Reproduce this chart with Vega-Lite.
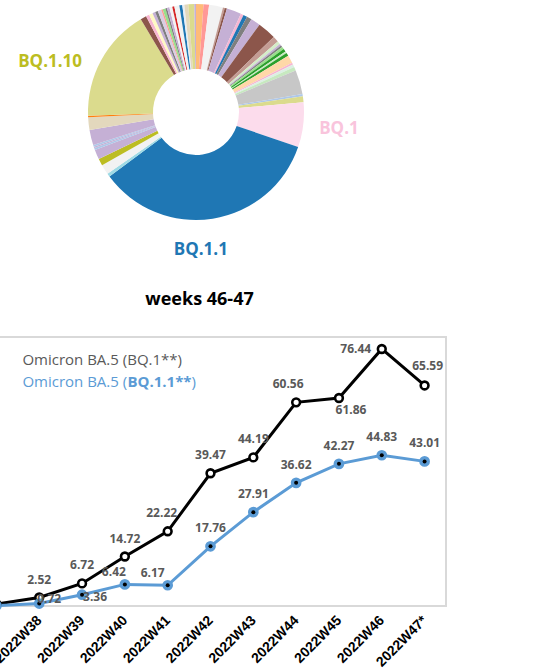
{
  "$schema": "https://vega.github.io/schema/vega-lite/v6.json",
  "padding": {"left": -26, "top": -41, "right": 0, "bottom": 0},
  "spacing": 8,
  "background": "white",
  "resolve": {"scale": {"color": "independent"}},
  "config": {"view": {"stroke": null}, "font": "Open Sans"},
  "vconcat": [
    {
      "width": 442,
      "height": 234,
      "view": {"stroke": null},
      "data": {"values": [
        {"n": 1, "lineage": "other-01", "share": 1.11},
        {"n": 2, "lineage": "other-02", "share": 0.83},
        {"n": 3, "lineage": "other-03", "share": 2.08},
        {"n": 4, "lineage": "other-04", "share": 0.28},
        {"n": 5, "lineage": "other-05", "share": 0.33},
        {"n": 6, "lineage": "other-06", "share": 2.19},
        {"n": 7, "lineage": "other-07", "share": 0.44},
        {"n": 8, "lineage": "other-08", "share": 0.58},
        {"n": 9, "lineage": "other-09", "share": 0.75},
        {"n": 10, "lineage": "other-10", "share": 1.42},
        {"n": 11, "lineage": "other-11", "share": 2.78},
        {"n": 12, "lineage": "other-12", "share": 0.89},
        {"n": 13, "lineage": "other-13", "share": 0.47},
        {"n": 14, "lineage": "other-14", "share": 0.28},
        {"n": 15, "lineage": "other-15", "share": 0.28},
        {"n": 16, "lineage": "other-16", "share": 0.39},
        {"n": 17, "lineage": "other-17", "share": 0.44},
        {"n": 18, "lineage": "other-18", "share": 0.28},
        {"n": 19, "lineage": "other-19", "share": 0.47},
        {"n": 20, "lineage": "other-20", "share": 1.17},
        {"n": 21, "lineage": "other-21", "share": 0.31},
        {"n": 22, "lineage": "other-22", "share": 0.39},
        {"n": 23, "lineage": "other-23", "share": 0.56},
        {"n": 24, "lineage": "other-24", "share": 3.61},
        {"n": 25, "lineage": "other-25", "share": 0.36},
        {"n": 26, "lineage": "other-26", "share": 0.86},
        {"n": 27, "lineage": "BQ.1", "share": 6.72},
        {"n": 28, "lineage": "BQ.1.1", "share": 34.53},
        {"n": 29, "lineage": "other-29", "share": 0.5},
        {"n": 30, "lineage": "other-30", "share": 1.5},
        {"n": 31, "lineage": "other-31", "share": 1.03},
        {"n": 32, "lineage": "other-32", "share": 1.47},
        {"n": 33, "lineage": "other-33", "share": 0.28},
        {"n": 34, "lineage": "other-34", "share": 0.22},
        {"n": 35, "lineage": "other-35", "share": 0.25},
        {"n": 36, "lineage": "other-36", "share": 2.28},
        {"n": 37, "lineage": "other-37", "share": 1.92},
        {"n": 38, "lineage": "other-38", "share": 0.19},
        {"n": 39, "lineage": "BQ.1.10", "share": 17.03},
        {"n": 40, "lineage": "other-40", "share": 0.89},
        {"n": 41, "lineage": "other-41", "share": 0.5},
        {"n": 42, "lineage": "other-42", "share": 0.56},
        {"n": 43, "lineage": "other-43", "share": 0.42},
        {"n": 44, "lineage": "other-44", "share": 0.42},
        {"n": 45, "lineage": "other-45", "share": 0.53},
        {"n": 46, "lineage": "other-46", "share": 0.22},
        {"n": 47, "lineage": "other-47", "share": 0.42},
        {"n": 48, "lineage": "other-48", "share": 0.25},
        {"n": 49, "lineage": "other-49", "share": 0.36},
        {"n": 50, "lineage": "other-50", "share": 0.44},
        {"n": 51, "lineage": "other-51", "share": 0.31},
        {"n": 52, "lineage": "other-52", "share": 0.75},
        {"n": 53, "lineage": "other-53", "share": 0.44},
        {"n": 54, "lineage": "other-54", "share": 0.31},
        {"n": 55, "lineage": "other-55", "share": 0.58},
        {"n": 56, "lineage": "other-56", "share": 0.89},
        {"n": 57, "lineage": "other-57", "share": 0.25}
      ]},
      "encoding": {
        "theta": {"field": "share", "type": "quantitative", "stack": true},
        "order": {"field": "n", "type": "quantitative"}
      },
      "layer": [
        {
          "mark": {"type": "arc", "outerRadius": 108, "innerRadius": 43},
          "encoding": {
            "color": {
              "field": "lineage", "type": "nominal", "legend": null,
              "scale": {
                "domain": ["other-01","other-02","other-03","other-04","other-05","other-06","other-07","other-08","other-09","other-10","other-11","other-12","other-13","other-14","other-15","other-16","other-17","other-18","other-19","other-20","other-21","other-22","other-23","other-24","other-25","other-26","BQ.1","BQ.1.1","other-29","other-30","other-31","other-32","other-33","other-34","other-35","other-36","other-37","other-38","BQ.1.10","other-40","other-41","other-42","other-43","other-44","other-45","other-46","other-47","other-48","other-49","other-50","other-51","other-52","other-53","other-54","other-55","other-56","other-57"],
                "range": ["#ffbb78","#ff9896","#f2f2f2","#c49c94","#8c564b","#c5b0d5","#f7b6d2","#1f77b4","#7f7f7f","#c5b0d5","#8c564b","#c49c94","#d4ecc8","#c5b0d5","#7f7f7f","#98df8a","#2ca02c","#c7e9c0","#2ca02c","#ffd8a8","#f7b6d2","#dcefe4","#c7e9c0","#c7c7c7","#aec7e8","#dbdb8d","#fcdcec","#1f77b4","#9edae5","#f2f2f2","#bcbd22","#c5b0d5","#aec7e8","#c5b0d5","#aec7e8","#c5b0d5","#e3d8bd","#ff7f0e","#dbdb8d","#8c564b","#f7b6d2","#fff9c4","#c5b0d5","#7f7f7f","#d9cde3","#ff9896","#98df8a","#7f7f7f","#c5b0d5","#f2f2f2","#d62728","#f2f2f2","#1f77b4","#e6eef6","#e3d8bd","#dbdb8d","#c5b0d5"]
              }
            }
          }
        },
        {
          "mark": {"type": "text", "radius": 144, "dx": -19.5, "dy": 19, "font": "Open Sans", "fontSize": 17, "fontWeight": "bold", "color": "#bcbd22"},
          "encoding": {"text": {"condition": {"test": "datum.lineage == 'BQ.1.10'", "value": "BQ.1.10"}, "value": ""}}
        },
        {
          "mark": {"type": "text", "radius": 144, "dx": 0, "dy": 0, "font": "Open Sans", "fontSize": 17, "fontWeight": "bold", "color": "#f9c4dc"},
          "encoding": {"text": {"condition": {"test": "datum.lineage == 'BQ.1'", "value": "BQ.1"}, "value": ""}}
        },
        {
          "mark": {"type": "text", "radius": 135, "dx": -16, "dy": 5, "font": "Open Sans", "fontSize": 17, "fontWeight": "bold", "color": "#1f77b4"},
          "encoding": {"text": {"condition": {"test": "datum.lineage == 'BQ.1.1'", "value": "BQ.1.1"}, "value": ""}}
        }
      ]
    },
    {
      "width": 471,
      "height": 269,
      "view": {"stroke": "#d9d9d9", "strokeWidth": 2},
      "title": {"text": "weeks 46-47", "orient": "top", "anchor": "middle", "frame": "group", "offset": 28, "dx": -11, "fontSize": 18, "font": "Open Sans", "fontWeight": "bold", "color": "#000000"},
      "data": {"values": [
        {"week": "2022W37", "series": "Omicron BA.5 (BQ.1**)", "value": 0.6},
        {"week": "2022W38", "series": "Omicron BA.5 (BQ.1**)", "value": 2.52},
        {"week": "2022W39", "series": "Omicron BA.5 (BQ.1**)", "value": 6.72},
        {"week": "2022W40", "series": "Omicron BA.5 (BQ.1**)", "value": 14.72},
        {"week": "2022W41", "series": "Omicron BA.5 (BQ.1**)", "value": 22.22},
        {"week": "2022W42", "series": "Omicron BA.5 (BQ.1**)", "value": 39.47},
        {"week": "2022W43", "series": "Omicron BA.5 (BQ.1**)", "value": 44.19},
        {"week": "2022W44", "series": "Omicron BA.5 (BQ.1**)", "value": 60.56},
        {"week": "2022W45", "series": "Omicron BA.5 (BQ.1**)", "value": 61.86},
        {"week": "2022W46", "series": "Omicron BA.5 (BQ.1**)", "value": 76.44},
        {"week": "2022W47*", "series": "Omicron BA.5 (BQ.1**)", "value": 65.59},
        {"week": "2022W37", "series": "Omicron BA.5 (BQ.1.1**)", "value": 0.1},
        {"week": "2022W38", "series": "Omicron BA.5 (BQ.1.1**)", "value": 0.72},
        {"week": "2022W39", "series": "Omicron BA.5 (BQ.1.1**)", "value": 3.36},
        {"week": "2022W40", "series": "Omicron BA.5 (BQ.1.1**)", "value": 6.42},
        {"week": "2022W41", "series": "Omicron BA.5 (BQ.1.1**)", "value": 6.17},
        {"week": "2022W42", "series": "Omicron BA.5 (BQ.1.1**)", "value": 17.76},
        {"week": "2022W43", "series": "Omicron BA.5 (BQ.1.1**)", "value": 27.91},
        {"week": "2022W44", "series": "Omicron BA.5 (BQ.1.1**)", "value": 36.62},
        {"week": "2022W45", "series": "Omicron BA.5 (BQ.1.1**)", "value": 42.27},
        {"week": "2022W46", "series": "Omicron BA.5 (BQ.1.1**)", "value": 44.83},
        {"week": "2022W47*", "series": "Omicron BA.5 (BQ.1.1**)", "value": 43.01}
      ]},
      "encoding": {
        "x": {
          "field": "week", "type": "ordinal", "sort": null,
          "scale": {"type": "point", "padding": 0.5, "domain": ["2022W37","2022W38","2022W39","2022W40","2022W41","2022W42","2022W43","2022W44","2022W45","2022W46","2022W47*"]},
          "axis": {"title": null, "domain": false, "ticks": false, "grid": false, "labelAngle": -45, "labelAlign": "right", "labelBaseline": "middle", "labelPadding": 12, "labelFont": "Liberation Sans", "labelFontSize": 14, "labelFontWeight": "bold", "labelColor": "#000000", "labelExpr": "datum.value == '2022W37' ? '' : datum.value"}
        },
        "y": {"field": "value", "type": "quantitative", "scale": {"domain": [0, 80], "nice": false}, "axis": null}
      },
      "layer": [
        {
          "mark": {"type": "line", "strokeWidth": 3},
          "encoding": {"color": {"field": "series", "type": "nominal", "legend": null, "scale": {"domain": ["Omicron BA.5 (BQ.1**)", "Omicron BA.5 (BQ.1.1**)"], "range": ["#000000", "#5b9bd5"]}}}
        },
        {
          "transform": [{"filter": "datum.series == 'Omicron BA.5 (BQ.1**)'"}],
          "mark": {"type": "point", "shape": "circle", "filled": true, "fill": "#ffffff", "stroke": "#000000", "strokeWidth": 2.6, "size": 60, "opacity": 1}
        },
        {
          "transform": [{"filter": "datum.series == 'Omicron BA.5 (BQ.1.1**)'"}],
          "mark": {"type": "circle", "size": 115, "color": "#5b9bd5", "opacity": 1}
        },
        {
          "transform": [{"filter": "datum.series == 'Omicron BA.5 (BQ.1.1**)'"}],
          "mark": {"type": "circle", "size": 16, "color": "#000000", "opacity": 1}
        },
        {
          "transform": [{"filter": "datum.series == 'Omicron BA.5 (BQ.1**)' && datum.week != '2022W37'"}],
          "mark": {
            "type": "text", "font": "Open Sans", "fontSize": 12, "fontWeight": "bold", "color": "#595959",
            "dx": {"expr": "datum.week == '2022W41' ? -6 : datum.week == '2022W44' ? -8 : datum.week == '2022W45' ? 12 : datum.week == '2022W46' ? -26 : datum.week == '2022W47*' ? 3 : 0"},
            "dy": {"expr": "datum.week == '2022W45' ? 12 : datum.week == '2022W46' ? 0 : datum.week == '2022W47*' ? -19 : -18"}
          },
          "encoding": {"text": {"field": "value", "type": "quantitative", "format": ".2f"}}
        },
        {
          "transform": [{"filter": "datum.series == 'Omicron BA.5 (BQ.1.1**)' && datum.week != '2022W37'"}],
          "mark": {
            "type": "text", "font": "Open Sans", "fontSize": 12, "fontWeight": "bold", "color": "#595959",
            "dx": {"expr": "datum.week == '2022W38' ? 10 : datum.week == '2022W39' ? 13 : datum.week == '2022W40' ? -11 : datum.week == '2022W41' ? -15 : 0"},
            "dy": {"expr": "datum.week == '2022W38' ? -5 : datum.week == '2022W39' ? 2 : datum.week == '2022W40' ? -12 : datum.week == '2022W41' ? -12 : -18"}
          },
          "encoding": {"text": {"field": "value", "type": "quantitative", "format": ".2f"}}
        },
        {
          "transform": [{"filter": "datum.series == 'Omicron BA.5 (BQ.1**)' && datum.week == '2022W37'"}],
          "mark": {"type": "text", "align": "left", "dx": 26, "font": "Open Sans", "fontSize": 15, "color": "#595959"},
          "encoding": {"y": {"datum": 73.3}, "text": {"field": "series"}}
        },
        {
          "transform": [{"filter": "datum.series == 'Omicron BA.5 (BQ.1.1**)' && datum.week == '2022W37'"}],
          "mark": {"type": "text", "text": "Omicron BA.5 (", "align": "left", "dx": 26, "font": "Open Sans", "fontSize": 15, "color": "#5b9bd5"},
          "encoding": {"y": {"datum": 66.7}}
        },
        {
          "transform": [{"filter": "datum.series == 'Omicron BA.5 (BQ.1.1**)' && datum.week == '2022W37'"}],
          "mark": {"type": "text", "text": "BQ.1.1**", "align": "left", "dx": 131, "font": "Open Sans", "fontSize": 15, "fontWeight": "bold", "color": "#5b9bd5"},
          "encoding": {"y": {"datum": 66.7}}
        },
        {
          "transform": [{"filter": "datum.series == 'Omicron BA.5 (BQ.1.1**)' && datum.week == '2022W37'"}],
          "mark": {"type": "text", "text": ")", "align": "left", "dx": 195, "font": "Open Sans", "fontSize": 15, "color": "#5b9bd5"},
          "encoding": {"y": {"datum": 66.7}}
        }
      ]
    }
  ]
}
